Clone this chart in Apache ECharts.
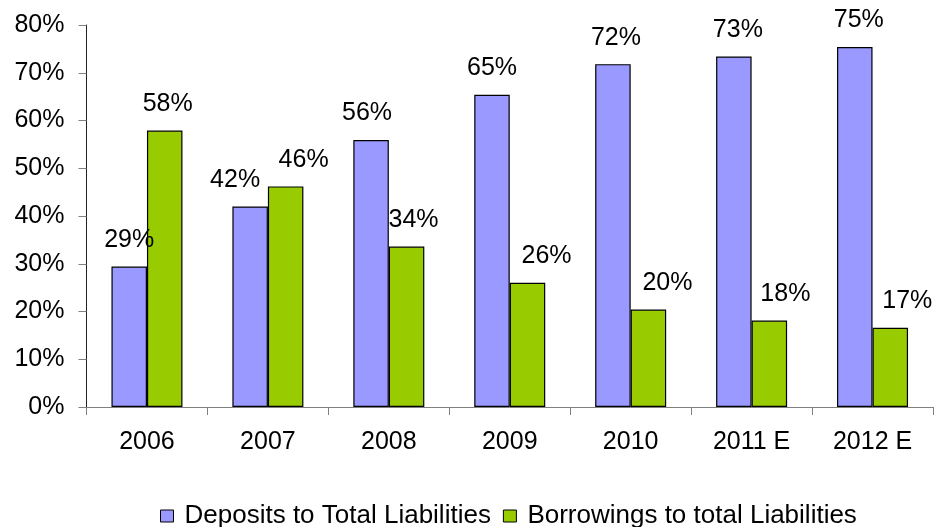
<!DOCTYPE html>
<html>
<head>
<meta charset="utf-8">
<script src="https://cdn.jsdelivr.net/npm/echarts@6/dist/echarts.min.js"></script>
<style>
  html, body { margin: 0; padding: 0; background: #fff; }
  #chart { width: 936px; height: 527px; }
</style>
</head>
<body>
<div id="chart"></div>
<script>
// Liability mix by year (share of total liabilities, %)
const years = ['2006', '2007', '2008', '2009', '2010', '2011 E', '2012 E'];
const depositsShare = [29.4, 42.0, 55.9, 65.4, 71.8, 73.4, 75.4];
const borrowingsShare = [57.9, 46.2, 33.6, 26.0, 20.4, 18.1, 16.6];
const seriesNames = ['Deposits to Total Liabilities', 'Borrowings to total Liabilities'];

// horizontal nudges for the value labels, so neighbouring labels don't collide
const depLabelShift = [0, -15, -4, 0, 3, 4, 4];
const borLabelShift = [3, 18, 7, 19, 19, 16, 17];

const FONT = '"Liberation Sans", Arial, sans-serif';

function withLabels(values, shifts) {
  return values.map((v, i) => ({
    value: v,
    label: { offset: [shifts[i], 0] }
  }));
}

const labelStyle = {
  show: true,
  position: 'top',
  distance: 14,
  color: '#000',
  fontSize: 25,
  fontFamily: FONT,
  formatter: p => Math.round(p.value) + '%'
};

const chart = echarts.init(document.getElementById('chart'), null, { renderer: 'canvas' });
chart.setOption({
  animation: false,
  backgroundColor: '#fff',
  grid: { left: 86.5, right: 3, top: 25, bottom: 120, containLabel: false },
  legend: {
    left: 155,
    top: 498,
    itemWidth: 13,
    itemHeight: 12,
    itemGap: 12,
    icon: 'rect',
    itemStyle: { borderColor: '#000', borderWidth: 1 },
    textStyle: { fontSize: 26, fontFamily: FONT, color: '#000', padding: [0, 0, 0, 6] },
    data: seriesNames
  },
  xAxis: {
    type: 'category',
    data: years,
    axisLine: { lineStyle: { color: '#808080', width: 1 } },
    axisTick: { show: true, alignWithLabel: false, length: 8, lineStyle: { color: '#808080' } },
    axisLabel: { color: '#000', fontSize: 25, fontFamily: FONT, margin: 23 }
  },
  yAxis: {
    type: 'value',
    min: 0,
    max: 80,
    interval: 10,
    splitLine: { show: false },
    axisLine: { show: true, lineStyle: { color: '#222', width: 1 } },
    axisTick: { show: true, length: 8, lineStyle: { color: '#808080' } },
    axisLabel: { color: '#000', fontSize: 25, fontFamily: FONT, margin: 22, formatter: '{value}%' }
  },
  series: [
    {
      name: seriesNames[0],
      type: 'bar',
      barWidth: 35.5,
      barGap: '0%',
      data: withLabels(depositsShare, depLabelShift),
      itemStyle: { color: '#9999FF', borderColor: '#000', borderWidth: 1.2 },
      label: labelStyle
    },
    {
      name: seriesNames[1],
      type: 'bar',
      barWidth: 35.5,
      barGap: '0%',
      data: withLabels(borrowingsShare, borLabelShift),
      itemStyle: { color: '#99CC00', borderColor: '#000', borderWidth: 1.2 },
      label: labelStyle
    }
  ]
});
</script>
</body>
</html>
